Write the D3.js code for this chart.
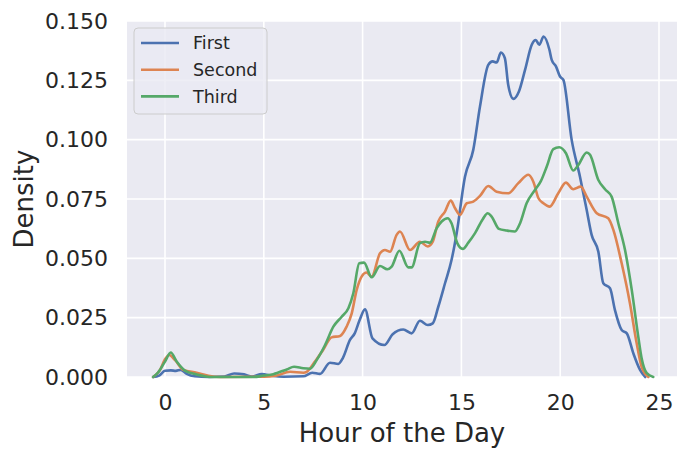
<!DOCTYPE html>
<html>
<head>
<meta charset="utf-8">
<script src="https://cdn.jsdelivr.net/npm/d3@7"></script>
<style>
  body { margin: 0; background: #fff; }
  svg text { font-family: "DejaVu Sans", sans-serif; fill: #262626; }
</style>
</head>
<body>
<div id="chart-area"></div>
<script>
// KDE curves: [hour, density]
const first = [
  [-0.6,0],[-0.3,0.0006],[0,0.0026],[0.3,0.0028],[0.55,0.0026],[0.8,0.003],[1.1,0.0013],[1.5,0.0003],
  [2.2,0],[3.0,0.0002],[3.5,0.0015],[4.0,0.0011],[4.4,0.0002],[4.9,0.0012],[5.4,0.0005],[6.0,0.0001],
  [7.0,0.0003],[7.45,0.0018],[7.84,0.0013],[8.35,0.006],[8.77,0.0055],[9.0,0.008],[9.36,0.0156],
  [9.6,0.0184],[9.85,0.024],[10.12,0.0285],[10.5,0.0163],[11.1,0.0135],[11.52,0.018],[12.06,0.020],
  [12.48,0.0184],[12.9,0.0237],[13.3,0.0219],[13.55,0.0226],[13.83,0.0296],[14.17,0.0395],[14.5,0.0493],
  [14.76,0.0606],[15.18,0.0844],[15.6,0.0957],[15.94,0.114],[16.36,0.1315],[16.58,0.133],[16.78,0.1325],
  [17.0,0.1367],[17.2,0.1343],[17.37,0.123],[17.63,0.1172],[17.91,0.1203],[18.22,0.1294],[18.56,0.140],
  [18.76,0.142],[18.94,0.140],[19.16,0.1435],[19.45,0.138],[19.57,0.1336],[19.79,0.1308],[19.99,0.1266],
  [20.16,0.1252],[20.58,0.0999],[21.0,0.0844],[21.34,0.0704],[21.59,0.0599],[21.93,0.0528],[22.18,0.0395],
  [22.52,0.0374],[22.77,0.0282],[23.11,0.0198],[23.37,0.0184],[23.7,0.010],[24.04,0.003],[24.3,0]
];
const second = [
  [-0.6,0],[-0.25,0.003],[0.0,0.0075],[0.22,0.0093],[0.5,0.0072],[0.93,0.003],[1.6,0.0018],[2.2,0.0005],
  [2.8,0],[5.0,0.0001],[5.6,0.0005],[6.33,0.0022],[7.0,0.0018],[7.17,0.0022],[7.59,0.0065],[8.0,0.0114],
  [8.43,0.0167],[8.86,0.0173],[9.19,0.0212],[9.45,0.0268],[9.7,0.0367],[9.95,0.0423],[10.2,0.044],
  [10.46,0.0423],[10.88,0.0521],[11.13,0.0535],[11.39,0.0528],[11.72,0.0599],[11.89,0.0613],[12.4,0.0535],
  [12.9,0.057],[13.3,0.055],[13.55,0.057],[13.83,0.0655],[14.17,0.0697],[14.46,0.0743],[14.68,0.0711],
  [14.93,0.0683],[15.27,0.0732],[15.6,0.0739],[15.94,0.0763],[16.36,0.0805],[16.78,0.0781],[17.37,0.0774],
  [17.88,0.0817],[18.39,0.0852],[18.64,0.0823],[18.9,0.0753],[19.15,0.0732],[19.47,0.0718],[19.9,0.0774],
  [20.29,0.0819],[20.66,0.0791],[21.04,0.0802],[21.34,0.076],[21.85,0.069],[22.43,0.0669],[22.69,0.062],
  [23.11,0.0479],[23.53,0.031],[23.87,0.0142],[24.12,0.0043],[24.46,0]
];
const third = [
  [-0.6,0],[-0.34,0.002],[0,0.0065],[0.29,0.0103],[0.59,0.0065],[1.01,0.0027],[1.6,0.0011],[2.44,0],
  [4.5,0],[5.0,0.0006],[5.48,0.0012],[6.16,0.0032],[6.53,0.0043],[7.0,0.0037],[7.34,0.0035],[7.68,0.0072],
  [8.1,0.0135],[8.52,0.0212],[8.94,0.0254],[9.28,0.029],[9.53,0.0353],[9.83,0.0479],[10.07,0.0482],
  [10.46,0.042],[10.88,0.0468],[11.25,0.0454],[11.47,0.0465],[11.86,0.0532],[12.31,0.0462],[12.48,0.0462],
  [12.9,0.0564],[13.16,0.057],[13.41,0.0566],[13.75,0.0627],[14.0,0.0655],[14.3,0.0669],[14.5,0.0648],
  [14.79,0.0564],[15.07,0.054],[15.35,0.0566],[15.69,0.0606],[16.08,0.0665],[16.33,0.069],[16.53,0.0676],
  [16.9,0.0624],[17.29,0.0617],[17.71,0.0613],[17.97,0.0648],[18.3,0.0732],[18.72,0.0788],[19.02,0.0825],
  [19.32,0.0887],[19.65,0.096],[19.95,0.0968],[20.29,0.0943],[20.66,0.087],[20.92,0.0894],[21.34,0.0946],
  [21.51,0.0936],[21.93,0.083],[22.27,0.0791],[22.6,0.076],[22.94,0.0648],[23.28,0.0535],[23.62,0.0367],
  [23.95,0.017],[24.12,0.0079],[24.38,0.0016],[24.71,0]
];
const seriesNames = ["First", "Second", "Third"];
const xTicks = [0, 5, 10, 15, 20, 25];
const yTicks = [0, 0.025, 0.05, 0.075, 0.1, 0.125, 0.15];

const colors = ["#4C72B0", "#DD8452", "#55A868"];
const allSeries = [first, second, third];

const svgWidth = 690, svgHeight = 460;
const margins = {top: 21, right: 13, bottom: 83, left: 127};
const chartWidth = svgWidth - margins.left - margins.right;
const chartHeight = svgHeight - margins.top - margins.bottom;

const canvas = d3.select("#chart-area")
  .append("svg")
    .attr("width", svgWidth)
    .attr("height", svgHeight);

const chart = canvas.append("g")
  .attr("transform", `translate(${margins.left},${margins.top})`);

const x = d3.scaleLinear().domain([-1.923, 25.91]).range([0, chartWidth]);
const y = d3.scaleLinear().domain([0, 0.15]).range([chartHeight, 0]);

// background
chart.append("rect")
  .attr("width", chartWidth)
  .attr("height", chartHeight)
  .attr("fill", "#EAEAF2");

// grid
chart.selectAll(".vgrid").data(xTicks).enter().append("line")
  .attr("x1", d => x(d)).attr("x2", d => x(d))
  .attr("y1", 0).attr("y2", chartHeight)
  .attr("stroke", "#fff").attr("stroke-width", 1.6);
chart.selectAll(".hgrid").data(yTicks).enter().append("line")
  .attr("y1", d => y(d)).attr("y2", d => y(d))
  .attr("x1", 0).attr("x2", chartWidth)
  .attr("stroke", "#fff").attr("stroke-width", 1.6);

// axes (no tick marks, seaborn darkgrid)
const xAxis = chart.append("g")
  .attr("transform", `translate(0,${chartHeight})`)
  .call(d3.axisBottom(x).tickValues(xTicks).tickSize(0).tickPadding(17));
xAxis.select(".domain").remove();
xAxis.selectAll("text")
  .attr("font-size", 22)
  .attr("fill", "#262626");

const yAxis = chart.append("g")
  .call(d3.axisLeft(y).tickValues(yTicks).tickFormat(d3.format(".3f")).tickSize(0).tickPadding(19));
yAxis.select(".domain").remove();
yAxis.selectAll("text")
  .attr("font-size", 22)
  .attr("fill", "#262626");

// curves
const line = d3.line()
  .x(d => x(d[0]))
  .y(d => y(d[1]))
  .curve(d3.curveMonotoneX);

chart.append("defs").append("clipPath").attr("id", "clip")
  .append("rect").attr("width", chartWidth).attr("height", chartHeight + 2);

allSeries.forEach((s, i) => {
  chart.append("path")
    .datum(s)
    .attr("clip-path", "url(#clip)")
    .attr("fill", "none")
    .attr("stroke", colors[i])
    .attr("stroke-width", 2.6)
    .attr("stroke-linejoin", "round")
    .attr("stroke-linecap", "round")
    .attr("d", line);
});

// axis titles
canvas.append("text")
  .text("Hour of the Day")
  .attr("x", margins.left + chartWidth / 2)
  .attr("y", 442)
  .attr("text-anchor", "middle")
  .attr("font-size", 26);

canvas.append("text")
  .text("Density")
  .attr("transform", `translate(33,${margins.top + chartHeight / 2}) rotate(-90)`)
  .attr("text-anchor", "middle")
  .attr("font-size", 26);

// legend
const legend = canvas.append("g").attr("transform", "translate(134,28)");
legend.append("rect")
  .attr("width", 133)
  .attr("height", 86)
  .attr("rx", 4)
  .attr("fill", "#EAEAF2")
  .attr("fill-opacity", 0.8)
  .attr("stroke", "#cccccc")
  .attr("stroke-width", 1);
seriesNames.forEach((name, i) => {
  const row = legend.append("g").attr("transform", `translate(0,${15 + i * 26.7})`);
  row.append("line")
    .attr("x1", 7).attr("x2", 45)
    .attr("stroke", colors[i])
    .attr("stroke-width", 2.6);
  row.append("text")
    .text(name)
    .attr("x", 59)
    .attr("dy", "0.35em")
    .attr("font-size", 17.5);
});
</script>
</body>
</html>
